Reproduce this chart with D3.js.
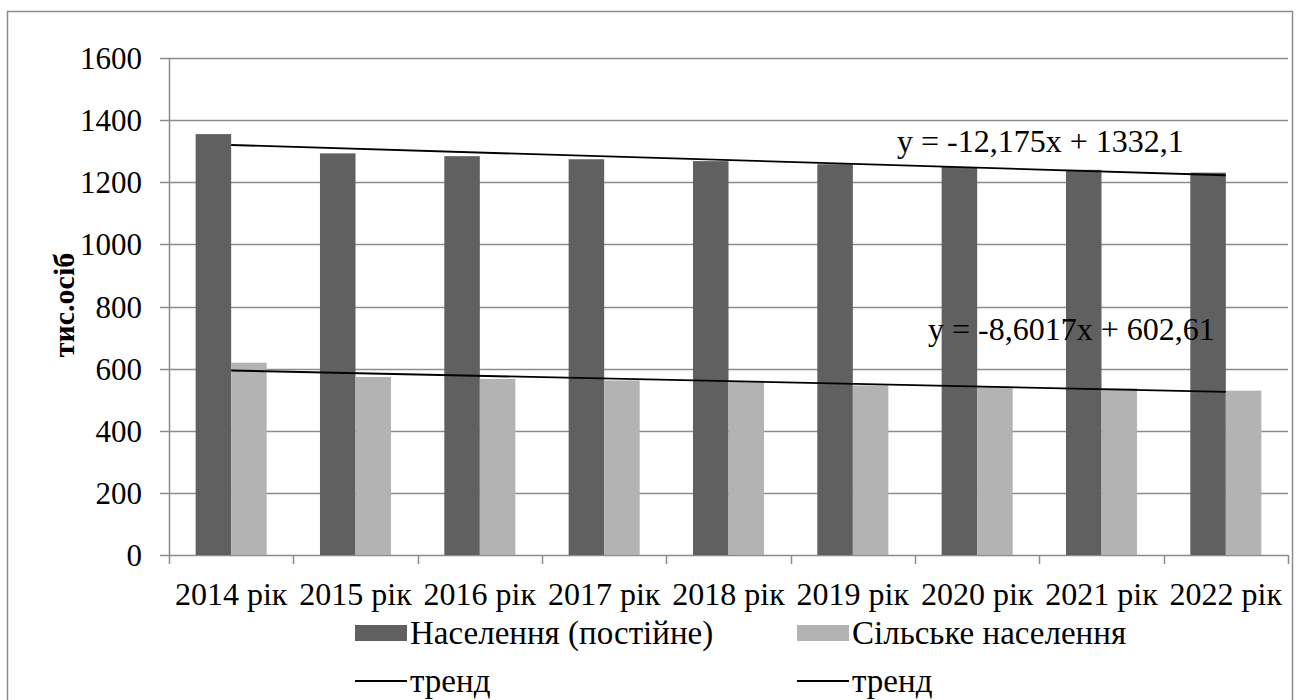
<!DOCTYPE html>
<html>
<head>
<meta charset="utf-8">
<script src="https://cdn.jsdelivr.net/npm/d3@7"></script>
<style>
  html, body { margin: 0; padding: 0; background: #fff; }
  svg { display: block; }
  svg text { font-family: "Liberation Serif", "DejaVu Serif", serif; fill: #000; }
</style>
</head>
<body>
<svg id="chart" width="1299" height="700" font-family="Liberation Serif, DejaVu Serif, serif"></svg>
<script>
// ---- data ----
const categories = ["2014 рік","2015 рік","2016 рік","2017 рік","2018 рік","2019 рік","2020 рік","2021 рік","2022 рік"];
const seriesNames = ["Населення (постійне)", "Сільське населення"];
const totalPopulation = [1355, 1293, 1284, 1274, 1268, 1258, 1249, 1240, 1231];
const ruralPopulation = [619, 573, 567, 562, 557, 546, 542, 537, 529];
const trendTotal = { slope: -12.175, intercept: 1332.1, label: "y = -12,175x + 1332,1" };
const trendRural = { slope: -8.6017, intercept: 602.61, label: "y = -8,6017x + 602,61" };
const yTicks = [0, 200, 400, 600, 800, 1000, 1200, 1400, 1600];
const yTitle = "тис.осіб";
const trendName = "тренд";

const colors = ["#606060", "#b3b3b3"];
const gridColor = "#8c8c8c";
const FONT = "'Liberation Serif', 'DejaVu Serif', serif";

const svg = d3.select("#chart");

// outer chart border
svg.append("rect").attr("x", 7.5).attr("y", 11.5).attr("width", 1285).attr("height", 700)
  .attr("fill", "none").attr("stroke", gridColor).attr("stroke-width", 1.5);

const plot = { left: 169, right: 1288, top: 58, bottom: 555 };

const y = d3.scaleLinear().domain([0, 1600]).range([plot.bottom, plot.top]);
const x = d3.scaleBand().domain(categories).range([plot.left, plot.right]).paddingInner(0).paddingOuter(0);
const x1 = d3.scaleBand().domain(seriesNames).range([0, x.bandwidth()]).paddingInner(0).paddingOuter(0.75);

// gridlines
svg.append("g").selectAll("line").data(yTicks).join("line")
  .attr("x1", plot.left - 9).attr("x2", plot.right)
  .attr("y1", d => Math.round(y(d)) + 0.5).attr("y2", d => Math.round(y(d)) + 0.5)
  .attr("stroke", gridColor).attr("stroke-width", 1.5);

// y axis line
svg.append("line").attr("x1", plot.left + 0.5).attr("x2", plot.left + 0.5)
  .attr("y1", plot.top).attr("y2", plot.bottom + 9)
  .attr("stroke", gridColor).attr("stroke-width", 1.5);

// x tick marks at category boundaries
const boundaries = categories.map(c => x(c)).concat([plot.right]);
svg.append("g").selectAll("line").data(boundaries.slice(1)).join("line")
  .attr("x1", d => Math.round(d) + 0.5).attr("x2", d => Math.round(d) + 0.5)
  .attr("y1", plot.bottom).attr("y2", plot.bottom + 9)
  .attr("stroke", gridColor).attr("stroke-width", 1.5);

function txt(sel) { return sel.attr("font-family", FONT).style("font-family", FONT); }

// y tick labels
txt(svg.append("g").selectAll("text").data(yTicks).join("text"))
  .attr("x", 142).attr("y", d => y(d) + 11)
  .attr("text-anchor", "end").attr("font-size", 31)
  .text(d => d);

// y title
txt(svg.append("text"))
  .attr("transform", "translate(74,305) rotate(-90)")
  .attr("text-anchor", "middle").attr("font-size", 30).attr("font-weight", "bold")
  .text(yTitle);

// bars
const data = [totalPopulation, ruralPopulation];
data.forEach((vals, si) => {
  svg.append("g").selectAll("rect").data(vals).join("rect")
    .attr("x", (d, i) => x(categories[i]) + x1(seriesNames[si]))
    .attr("width", x1.bandwidth())
    .attr("y", d => y(d))
    .attr("height", d => y(0) - y(d))
    .attr("fill", colors[si]);
});

// trend lines
[trendTotal, trendRural].forEach(t => {
  const n = categories.length;
  const pts = [1, n].map(k => [x(categories[k - 1]) + x.bandwidth() / 2, y(t.slope * k + t.intercept)]);
  svg.append("line")
    .attr("x1", pts[0][0]).attr("y1", pts[0][1])
    .attr("x2", pts[1][0]).attr("y2", pts[1][1])
    .attr("stroke", "#000").attr("stroke-width", 1.8);
});

// trend equations
txt(svg.append("text")).attr("x", 897).attr("y", 152).attr("font-size", 32).text(trendTotal.label);
txt(svg.append("text")).attr("x", 928).attr("y", 340).attr("font-size", 32).text(trendRural.label);

// x labels
txt(svg.append("g").selectAll("text").data(categories).join("text"))
  .attr("x", d => x(d) + x.bandwidth() / 2).attr("y", 605)
  .attr("text-anchor", "middle").attr("font-size", 32)
  .text(d => d);

// legend
const legendCols = [355, 797];
seriesNames.forEach((name, i) => {
  svg.append("rect").attr("x", legendCols[i]).attr("y", 625).attr("width", 52).attr("height", 16)
    .attr("fill", colors[i]);
  txt(svg.append("text")).attr("x", legendCols[i] + 55).attr("y", 644).attr("font-size", 33).text(name);
  svg.append("line").attr("x1", legendCols[i]).attr("x2", legendCols[i] + 52)
    .attr("y1", 681).attr("y2", 681).attr("stroke", "#000").attr("stroke-width", 1.8);
  txt(svg.append("text")).attr("x", legendCols[i] + 55).attr("y", 692).attr("font-size", 33).text(trendName);
});
</script>
</body>
</html>
